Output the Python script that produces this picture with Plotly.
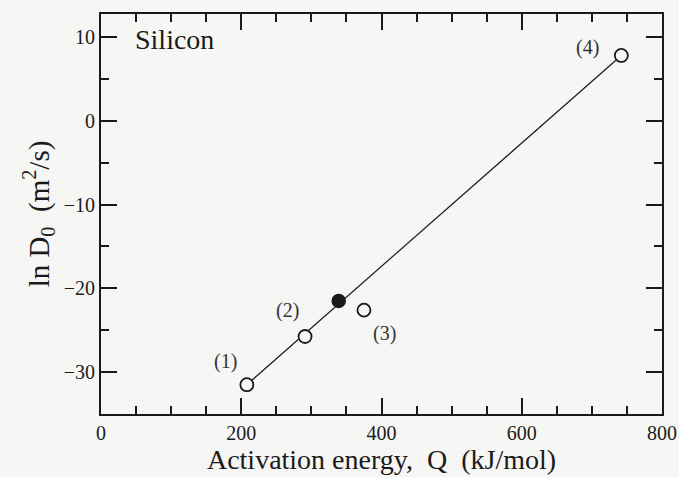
import plotly.graph_objects as go

# Diffusion data for silicon: activation energy Q (kJ/mol) and ln D0 (m^2/s)
q_open = [208, 291, 375, 742]
lnd_open = [-31.5, -25.75, -22.6, 7.8]
point_labels = ["(1)", "(2)", "(3)", "(4)"]

q_filled = [339]
lnd_filled = [-21.5]

# Straight line drawn through the series, from the first to the last open point
fit_q = [q_open[0], q_open[-1]]
fit_lnd = [lnd_open[0], lnd_open[-1]]

X_RANGE = [0, 800]
Y_RANGE = [-35, 12.75]
X_MAJOR, X_MINOR = 200, 50
Y_MAJOR, Y_MINOR = 10, 5

BG = "#f6f6f4"
INK = "#1a1a1a"
CLEAR = "rgba(0,0,0,0)"
FONT = "Liberation Serif, Times New Roman, serif"

fig = go.Figure()

fig.add_trace(go.Scatter(
    x=fit_q, y=fit_lnd, mode="lines",
    line=dict(color=INK, width=1.2), hoverinfo="skip", showlegend=False,
))
fig.add_trace(go.Scatter(
    x=q_open, y=lnd_open, mode="markers",
    marker=dict(symbol="circle", size=13, color=BG,
                line=dict(color=INK, width=1.8)),
    showlegend=False,
))
fig.add_trace(go.Scatter(
    x=q_filled, y=lnd_filled, mode="markers",
    marker=dict(symbol="circle", size=13, color=INK,
                line=dict(color=INK, width=1.5)),
    showlegend=False,
))
# Empty traces that put the extra frame / tick axes in use
for xa, ya in (("x2", "y2"), ("x3", "y3"), ("x4", "y4")):
    fig.add_trace(go.Scatter(
        x=[None], y=[None], xaxis=xa, yaxis=ya, mode="markers",
        hoverinfo="skip", showlegend=False,
    ))

# Pixel offsets of the point labels from their markers
label_offsets = [(-21, 23), (-18, 26), (21, -23), (-34, 8)]
for q, v, txt, (dx, dy) in zip(q_open, lnd_open, point_labels, label_offsets):
    fig.add_annotation(
        x=q, y=v, xref="x", yref="y", text=txt, showarrow=False,
        xshift=dx, yshift=dy, font=dict(family=FONT, size=20, color="#333333"),
    )

fig.add_annotation(
    x=0.057, y=0.935, xref="paper", yref="paper", text="Silicon",
    showarrow=False, xanchor="left", yanchor="middle",
    font=dict(family=FONT, size=28, color=INK),
)

# Shared look of every frame edge: line plus inward ticks
frame = dict(
    showline=True, linecolor=INK, linewidth=2,
    ticks="inside", ticklen=16, tickwidth=1.6, tickcolor=INK,
    showgrid=False, zeroline=False,
    tickmode="linear", tick0=0,
    tickfont=dict(family=FONT, size=20, color=INK),
)
# Same edge again carrying only the short ticks
short = dict(frame, ticklen=8, showticklabels=False)

x_minor = dict(ticks="inside", ticklen=8, tickcolor=INK, dtick=X_MINOR, tickwidth=1.6)
y_minor = dict(ticks="inside", ticklen=8, tickcolor=INK, dtick=Y_MINOR, tickwidth=1.6)

fig.update_layout(
    xaxis=dict(
        range=X_RANGE, dtick=X_MAJOR, side="bottom", minor=x_minor,
        title=dict(text="Activation energy,\u00a0 Q\u00a0 (kJ/mol)",
                   font=dict(family=FONT, size=28, color=INK), standoff=0),
        **frame,
    ),
    yaxis=dict(
        range=Y_RANGE, dtick=Y_MAJOR, side="left", minor=y_minor,
        title=dict(text="ln D<sub>0</sub>\u00a0 (m<sup>2</sup>/s)",
                   font=dict(family=FONT, size=29, color=INK), standoff=6),
        **frame,
    ),
    # top and right edges with the long ticks
    xaxis2=dict(range=X_RANGE, dtick=X_MAJOR, overlaying="x", anchor="y2",
                side="top", minor=x_minor, showticklabels=False, **frame),
    yaxis2=dict(range=Y_RANGE, dtick=Y_MAJOR, overlaying="y", anchor="x2",
                side="right", minor=y_minor, showticklabels=False, **frame),
    # bottom and left edges with the short ticks
    xaxis3=dict(range=X_RANGE, dtick=X_MINOR, overlaying="x", anchor="y3",
                side="bottom", **short),
    yaxis3=dict(range=Y_RANGE, dtick=Y_MINOR, overlaying="y", anchor="x3",
                side="left", **short),
    # top and right edges with the short ticks
    xaxis4=dict(range=X_RANGE, dtick=X_MINOR, overlaying="x", anchor="y4",
                side="top", **short),
    yaxis4=dict(range=Y_RANGE, dtick=Y_MINOR, overlaying="y", anchor="x4",
                side="right", **short),
    width=679, height=477,
    margin=dict(l=101, r=17, t=14, b=63, autoexpand=False),
    paper_bgcolor=BG, plot_bgcolor=CLEAR,
    showlegend=False,
)

fig.write_html("out.html")
